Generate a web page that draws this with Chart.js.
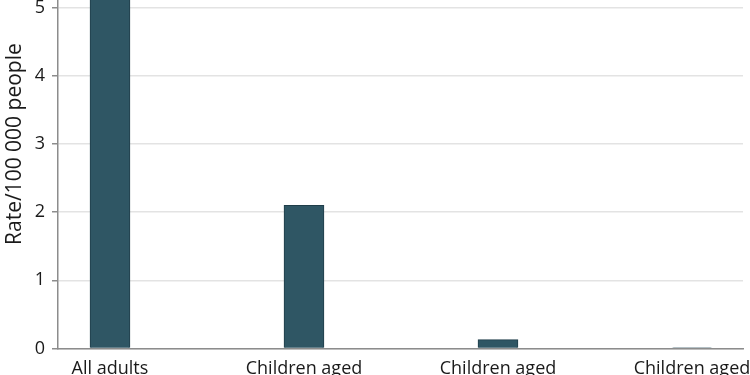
<!DOCTYPE html>
<html>
<head>
<meta charset="utf-8">
<script src="https://cdn.jsdelivr.net/npm/chart.js@4/dist/chart.umd.min.js"></script>
<style>
  html, body { margin: 0; padding: 0; background: #fff; overflow: hidden; }
  #frame { position: relative; width: 750px; height: 375px; overflow: hidden; }
  #wrap { position: absolute; left: 0; top: -78px; width: 750px; height: 468px; }
</style>
</head>
<body>
<div id="frame"><div id="wrap"><canvas id="rateChart"></canvas></div></div>
<script>
// Dữ liệu (cột đầu bị cắt ở trên, giá trị ước lượng)
const categories = ["All adults", "Children aged", "Children aged", "Children aged"];
const rates = [5.6, 2.1, 0.13, 0.01];
const yTicks = [0, 1, 2, 3, 4, 5, 6];

const ctx = document.getElementById("rateChart");

new Chart(ctx, {
    type: "bar",
    data: {
        datasets: [{
            data: rates.map((v, i) => ({ x: i, y: v })),
            backgroundColor: "#2f5664",
            borderColor: "#1f3d49",
            borderWidth: 1,
            barThickness: 40
        }]
    },
    options: {
        responsive: true,
        maintainAspectRatio: false,
        animation: false,
        layout: { padding: { right: 7, top: 0, left: 0, bottom: 0 } },
        plugins: {
            legend: { display: false },
            tooltip: { enabled: false }
        },
        scales: {
            x: {
                type: "linear",
                offset: false,
                min: -0.268,
                max: 3.263,
                grid: { display: false, drawTicks: false },
                border: { display: true, color: "#8c8c8c", width: 1.5 },
                afterBuildTicks: (axis) => {
                    axis.ticks = categories.map((_, i) => ({ value: i }));
                },
                // nhãn cuối bị cắt ở mép phải nên bỏ phần đệm tự động
                afterFit: (axis) => { axis.paddingLeft = 0; axis.paddingRight = 0; },
                ticks: {
                    padding: 10,
                    color: "#1a1a1a",
                    font: { family: "Open Sans", size: 18 },
                    maxRotation: 0,
                    autoSkip: false,
                    callback: (v) => categories[v] ?? ""
                }
            },
            y: {
                min: 0,
                max: 6,
                afterFit: (axis) => { axis.width = 58; },
                afterBuildTicks: (axis) => {
                    axis.ticks = yTicks.map(v => ({ value: v }));
                },
                grid: {
                    color: "#e3e3e3",
                    lineWidth: 1.5,
                    tickColor: "#8c8c8c",
                    tickLength: 6
                },
                border: { display: true, color: "#8c8c8c", width: 1.5 },
                ticks: {
                    padding: 7,
                    color: "#1a1a1a",
                    font: { family: "Open Sans", size: 18 }
                },
                title: {
                    display: true,
                    text: "Rate/100 000 people",
                    color: "#1a1a1a",
                    font: { family: "Open Sans", size: 21 },
                    padding: { top: 2, bottom: 0 }
                }
            }
        }
    }
});
</script>
</body>
</html>
